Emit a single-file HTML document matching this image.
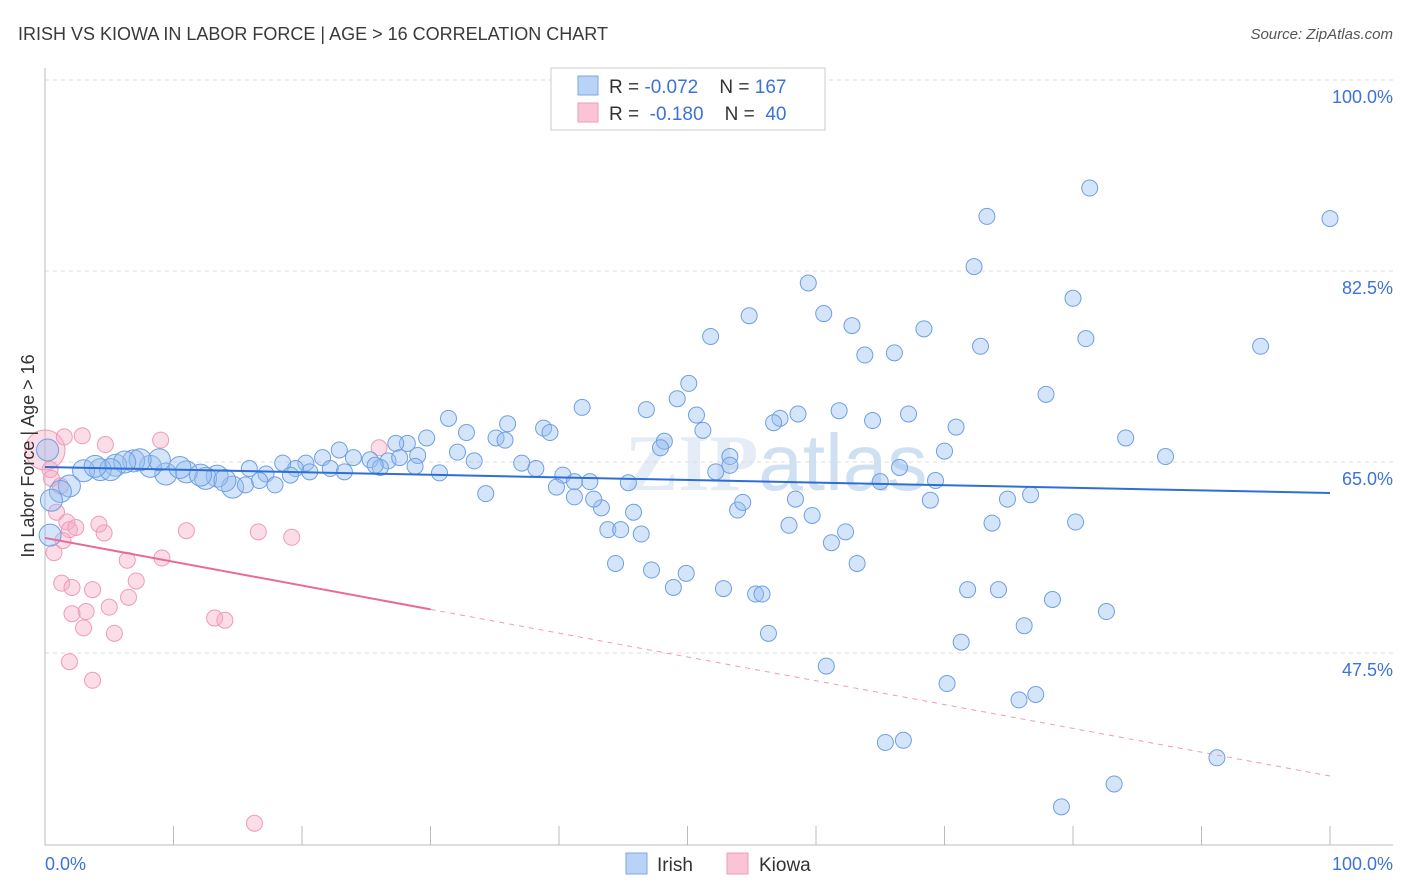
<!DOCTYPE html>
<html><head><meta charset="utf-8"><style>
body{margin:0;background:#fff;font-family:"Liberation Sans",sans-serif}
svg{display:block}
</style></head><body>
<svg id="chart" width="1406" height="892">
<text x="18" y="40" font-size="18" fill="#3a3a3a">IRISH VS KIOWA IN LABOR FORCE | AGE &gt; 16 CORRELATION CHART</text>
<text x="1393" y="39" font-size="15" fill="#555" text-anchor="end" font-style="italic">Source: ZipAtlas.com</text>
<text x="625" y="490" font-size="80" fill="#e4ecf5" font-family="Liberation Serif,serif" font-weight="bold">ZIP<tspan font-family="Liberation Sans,sans-serif" font-weight="normal" fill="#cfe0f2">atlas</tspan></text>
<g id="grid"></g><g id="axes"></g><g id="pts"></g><g id="trend"></g>
<text transform="translate(34,456) rotate(-90)" font-size="18" fill="#333" text-anchor="middle">In Labor Force | Age &gt; 16</text>
<text x="45" y="870" font-size="18" fill="#3b73d9">0.0%</text>
<text x="1393" y="870" font-size="18" fill="#3b73d9" text-anchor="end">100.0%</text>
<g>
<rect x="551" y="68" width="274" height="62" fill="#fff" stroke="#ccc"/>
<rect x="578" y="76" width="20" height="19" fill="#b8d3f5" stroke="#7aa7e6"/>
<rect x="578" y="103" width="20" height="19" fill="#f9c5d6" stroke="#ef9bb6"/>
<text x="609" y="93" font-size="19" fill="#333" style="white-space:pre">R = <tspan fill="#3b73d9">-0.072</tspan>    N = <tspan fill="#3b73d9">167</tspan></text>
<text x="609" y="120" font-size="19" fill="#333" style="white-space:pre">R =  <tspan fill="#3b73d9">-0.180</tspan>    N =  <tspan fill="#3b73d9">40</tspan></text>
</g>
<g>
<rect x="626" y="853" width="21" height="21" fill="#b8d3f5" stroke="#7aa7e6"/>
<text x="657" y="871" font-size="19" fill="#333">Irish</text>
<rect x="727" y="853" width="21" height="21" fill="#f9c5d6" stroke="#ef9bb6"/>
<text x="759" y="871" font-size="19" fill="#333">Kiowa</text>
</g>
</svg>
<script>
const yTicks=[47.5,65.0,82.5,100.0];
const yTickLabels=["47.5%","65.0%","82.5%","100.0%"];
const xTicks=[0,10,20,30,40,50,60,70,80,90,100];
const irishX=[81.3,100,73.3,72.3,59.4,80.0,54.8,60.6,62.8,68.4,51.8,81.0,72.8,63.8,66.1,94.6,50.1,77.9,49.2,41.8,31.4,46.8,50.7,57.2,58.6,61.8,67.2,56.7,64.4,32.8,36.0,38.8,39.3,51.2,70.9,84.1,35.1,35.8,29.7,28.2,27.3,48.2,47.9,53.3,70.0,87.2,32.1,33.4,29.0,26.7,24.0,22.9,21.6,20.3,19.5,18.5,17.2,15.9,14.6,13.4,12.5,11.0,9.4,8.2,6.9,5.5,4.3,3.0,1.9,1.2,37.1,38.2,40.3,41.2,42.4,52.2,53.3,66.5,69.3,30.7,34.3,39.8,41.2,43.3,42.7,45.4,45.8,43.8,44.8,46.4,53.9,54.3,58.4,59.7,57.9,65.0,68.9,74.9,76.7,80.2,73.7,61.2,62.3,44.4,47.2,49.9,48.9,63.2,52.8,55.3,55.8,71.8,74.2,78.4,82.6,76.2,56.3,71.3,60.8,70.2,77.1,75.8,65.4,66.8,91.2,83.2,79.1,15.6,16.7,17.9,19.1,20.6,22.2,23.3,25.3,26.1,14.0,12.1,10.5,8.9,7.4,6.2,5.1,3.9,0.5,0.4,0.2,25.7,27.6,28.8];
const irishY=[90.1,87.3,87.5,82.9,81.4,80.0,78.4,78.6,77.5,77.2,76.5,76.3,75.6,74.8,75.0,75.6,72.2,71.2,70.8,70.0,69.0,69.8,69.3,69.0,69.4,69.7,69.4,68.6,68.8,67.7,68.5,68.1,67.7,67.9,68.2,67.2,67.2,67.0,67.2,66.7,66.7,66.9,66.3,65.5,66.0,65.5,65.9,65.1,65.6,65.1,65.4,66.1,65.4,64.9,64.4,64.9,63.9,64.4,62.7,63.7,63.5,64.1,63.9,64.6,65.1,64.7,64.3,64.2,62.8,62.3,64.9,64.4,63.8,63.2,63.2,64.1,64.7,64.5,63.3,64.0,62.1,62.7,61.8,60.8,61.6,63.1,60.4,58.8,58.8,58.4,60.6,61.3,61.6,60.1,59.2,63.2,61.5,61.6,62.0,59.5,59.4,57.6,58.6,55.7,55.1,54.8,53.5,55.7,53.4,52.9,52.9,53.3,53.3,52.4,51.3,50.0,49.3,48.5,46.3,44.7,43.7,43.2,39.3,39.5,37.9,35.5,33.4,62.9,63.3,62.9,63.8,64.1,64.4,64.1,65.2,64.5,63.3,63.8,64.5,65.2,65.2,65.0,64.3,64.6,61.5,58.3,66.1,64.7,65.4,64.6];
const kiowaX=[0,0.4,0.5,1.2,0.9,1.5,2.9,4.7,9.0,26.0,1.7,1.9,2.4,1.4,0.7,4.2,4.6,11.0,16.6,19.2,6.4,9.1,7.1,1.3,3.7,2.1,6.5,5.0,3.2,2.1,13.2,14.0,3.0,5.4,1.9,3.7,16.3];
const kiowaY=[66.1,64.3,63.5,62.8,60.4,67.3,67.4,66.6,67.0,66.3,59.5,58.8,59.0,57.8,56.7,59.3,58.5,58.7,58.6,58.1,56.0,56.2,54.1,53.9,53.3,53.5,52.6,51.7,51.3,51.1,50.7,50.5,49.8,49.3,46.7,45.0,31.9];
const irishTrend=[64.54,62.16];
const kiowaTrend=[58.04,36.23];
const kiowaSolidEnd=30;

const NS="http://www.w3.org/2000/svg";
const xs=v=>45+v*12.85;
const ys=v=>80+(100-v)*10.914;
function mk(tag,attrs,parent){const e=document.createElementNS(NS,tag);for(const k in attrs)e.setAttribute(k,attrs[k]);document.getElementById(parent).appendChild(e);return e;}
yTicks.forEach((t,i)=>{
  const l=mk('line',{x1:45,x2:1393,y1:ys(t),y2:ys(t),stroke:'#ddd','stroke-dasharray':'4,4'},'grid');
  
  
  const tx=mk('text',{x:1393,y:ys(t)+23,'font-size':18,fill:'#3b73d9','text-anchor':'end'},'grid');
  tx.textContent=yTickLabels[i];
  
  
});
const ya=mk('line',{x1:45,x2:45,y1:68,y2:845,stroke:'#bbb'},'axes');


const xa=mk('line',{x1:45,x2:1393,y1:845,y2:845,stroke:'#bbb'},'axes');


xTicks.forEach(t=>{
  const l=mk('line',{x1:xs(t),x2:xs(t),y1:826,y2:845,stroke:'#bbb'},'axes');
  
  
});
kiowaX.forEach((x,i)=>{
  const c=mk('circle',{cx:xs(x),cy:ys(kiowaY[i]),r:i===0?20:8,fill:'rgba(246,170,196,0.4)',stroke:'#ef9bb6','stroke-width':1},'pts');
  
  
});
irishX.forEach((x,i)=>{
  const c=mk('circle',{cx:xs(x),cy:ys(irishY[i]),r:x<15?11:8,fill:'rgba(150,190,240,0.4)',stroke:'#6e9fe3','stroke-width':1},'pts');
  
  
});
const it=mk('line',{x1:xs(0),y1:ys(irishTrend[0]),x2:xs(100),y2:ys(irishTrend[1]),stroke:'#2d6fd6','stroke-width':2},'trend');


const kAt=x=>kiowaTrend[0]+(kiowaTrend[1]-kiowaTrend[0])*x/100;
const ks=mk('line',{x1:xs(0),y1:ys(kAt(0)),x2:xs(kiowaSolidEnd),y2:ys(kAt(kiowaSolidEnd)),stroke:'#e8699a','stroke-width':2},'trend');


const kd=mk('line',{x1:xs(kiowaSolidEnd),y1:ys(kAt(kiowaSolidEnd)),x2:xs(100),y2:ys(kAt(100)),stroke:'#ef9bb6','stroke-width':1,'stroke-dasharray':'5,5'},'trend');


</script>
</body></html>
